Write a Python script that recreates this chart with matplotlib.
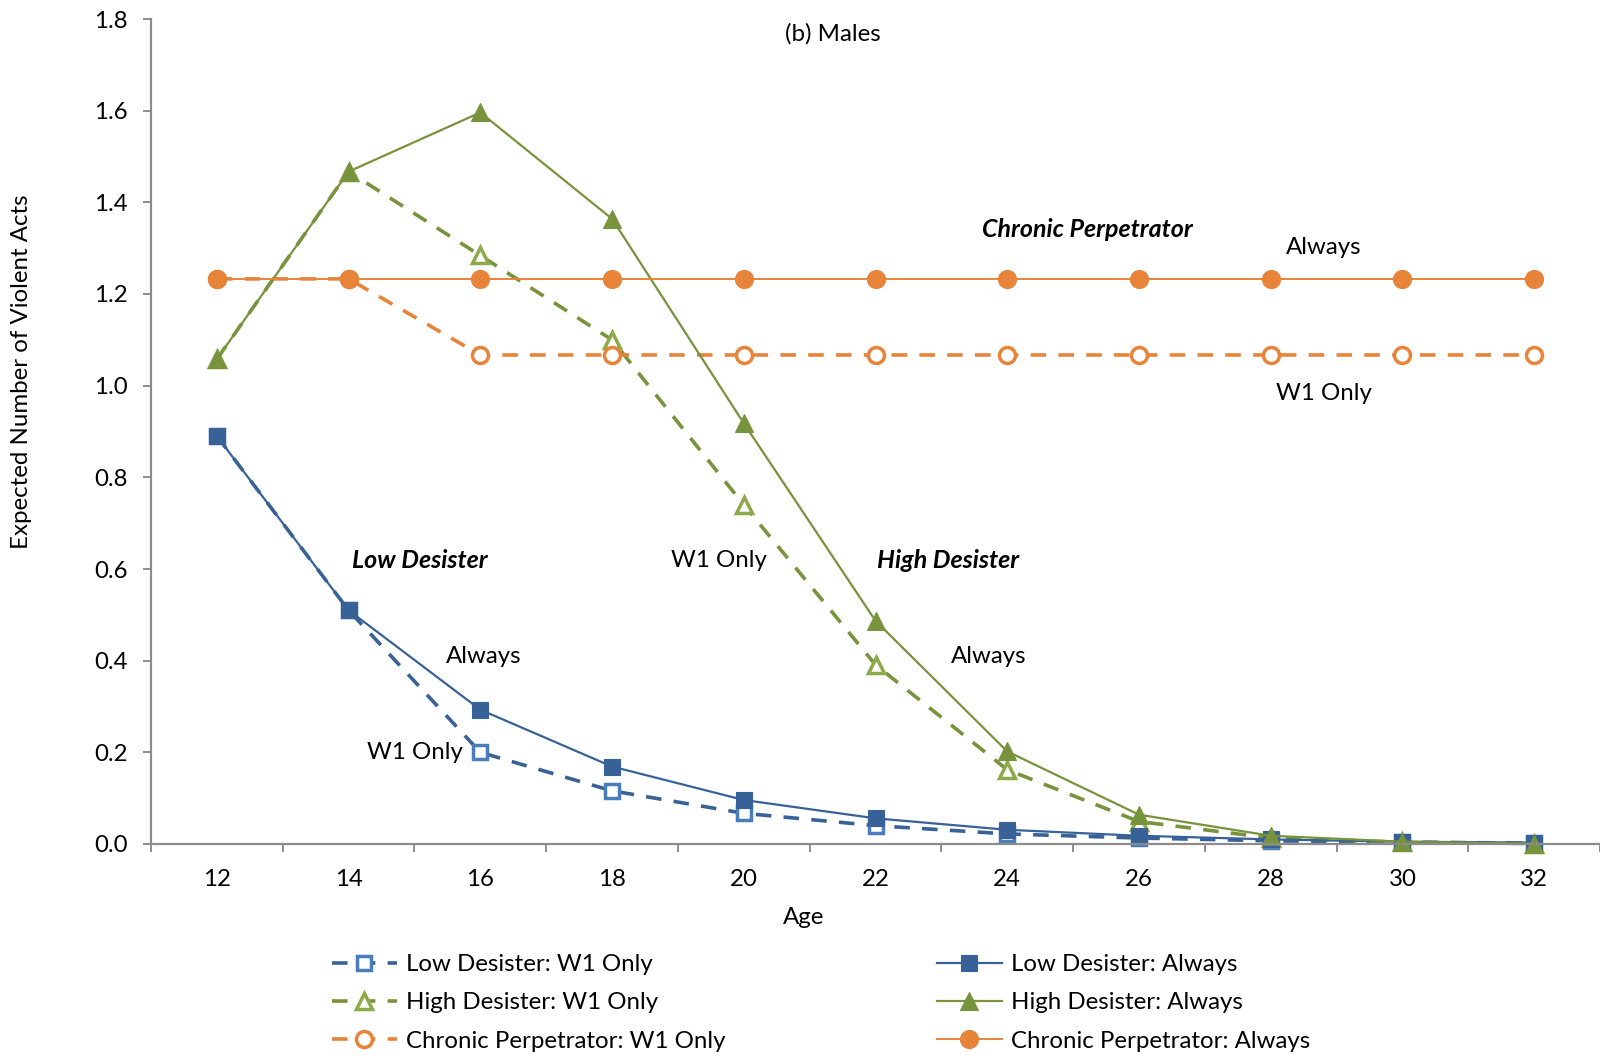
import matplotlib
matplotlib.use("Agg")
import matplotlib.pyplot as plt

plt.rcParams['font.family'] = ['Lato', 'DejaVu Sans']

ages = [12, 14, 16, 18, 20, 22, 24, 26, 28, 30, 32]

low_w1 = [0.89, 0.51, 0.20, 0.116, 0.067, 0.040, 0.022, 0.013, 0.007, 0.004, 0.002]
low_always = [0.89, 0.51, 0.293, 0.169, 0.096, 0.056, 0.031, 0.018, 0.010, 0.005, 0.003]
high_w1 = [1.058, 1.467, 1.284, 1.100, 0.740, 0.391, 0.162, 0.049, 0.013, 0.004, 0.001]
high_always = [1.058, 1.467, 1.596, 1.364, 0.918, 0.487, 0.202, 0.064, 0.018, 0.005, 0.001]
chronic_w1 = [1.233, 1.233, 1.067, 1.067, 1.067, 1.067, 1.067, 1.067, 1.067, 1.067, 1.067]
chronic_always = [1.233] * 11

y_ticks = [0.0, 0.2, 0.4, 0.6, 0.8, 1.0, 1.2, 1.4, 1.6, 1.8]

BLUE = '#386297'
BLUE_L = '#4A7EBB'
GREEN = '#77933C'
GREEN_L = '#8DAA4A'
ORANGE = '#E8833A'
AXIS = '#8C8C8C'

FS = 17.3
FS_EM = 18
fig = plt.figure(figsize=(16, 10.55), dpi=100)
ax = fig.add_axes([151 / 1600, 1 - 844 / 1055, 1 - 151 / 1600, (844 - 19) / 1055])

dash = (0, (4.3, 3.4))
series = [
    # label, data, color, marker color, linestyle, lw, marker, ms, filled
    ('Low Desister: W1 Only', low_w1, BLUE, BLUE_L, dash, 2.6, 's', 10, False),
    ('High Desister: W1 Only', high_w1, GREEN, GREEN_L, dash, 2.6, '^', 11, False),
    ('Chronic Perpetrator: W1 Only', chronic_w1, ORANGE, ORANGE, dash, 2.6, 'o', 11.5, False),
    ('Low Desister: Always', low_always, BLUE, BLUE, '-', 1.6, 's', 11.5, True),
    ('High Desister: Always', high_always, GREEN, GREEN, '-', 1.6, '^', 12.5, True),
    ('Chronic Perpetrator: Always', chronic_always, ORANGE, ORANGE, '-', 1.4, 'o', 13, True),
]

handles = []
for label, vals, col, mcol, ls, lw, mk, ms, filled in series:
    kw = dict(color=col, linestyle=ls, linewidth=lw, marker=mk, markersize=ms,
              markeredgecolor=mcol, clip_on=False, label=label)
    if filled:
        kw.update(markerfacecolor=mcol, markeredgewidth=0.8)
    else:
        kw.update(markerfacecolor='white', markeredgewidth=2.5)
    h, = ax.plot(ages, vals, **kw)
    handles.append(h)

ax.set_xlim(11, 11 + (1600 - 151) / 66)
ax.set_ylim(0, 1.8)

for s in ['top', 'right']:
    ax.spines[s].set_visible(False)
for s in ['left', 'bottom']:
    ax.spines[s].set_color(AXIS)
    ax.spines[s].set_linewidth(1.6)

ax.set_yticks(y_ticks)
ax.set_yticklabels([f'{v:.1f}' for v in y_ticks])
ax.tick_params(axis='y', direction='out', length=6, width=1.4, color=AXIS,
               pad=11, labelsize=FS)

# category boundaries carry the tick marks, labels sit at the category centres
ax.set_xticks(list(range(11, 34, 2)))
ax.set_xticklabels([])
ax.set_xticks(ages, minor=True)
ax.set_xticklabels([str(a) for a in ages], minor=True)
ax.tick_params(axis='x', which='major', direction='out', length=6, width=1.4, color=AXIS)
ax.tick_params(axis='x', which='minor', length=0, pad=18, labelsize=FS)

ax.text(21.36, 1.767, '(b) Males', ha='center', va='center', fontsize=FS)

notes = [
    (25.22, 1.34, 'Chronic Perpetrator', True),
    (28.81, 1.302, 'Always', False),
    (28.81, 0.982, 'W1 Only', False),
    (15.08, 0.618, 'Low Desister', True),
    (16.05, 0.409, 'Always', False),
    (15.0, 0.200, 'W1 Only', False),
    (19.63, 0.618, 'W1 Only', False),
    (23.10, 0.618, 'High Desister', True),
    (23.72, 0.409, 'Always', False),
]
for x, y, t, emph in notes:
    if emph:
        ax.text(x, y, t, ha='center', va='center', fontsize=FS_EM,
                fontweight='bold', fontstyle='italic')
    else:
        ax.text(x, y, t, ha='center', va='center', fontsize=FS)

fig.text(22 / 1600, 1 - 372 / 1055, 'Expected Number of Violent Acts',
         rotation=90, ha='center', va='center', fontsize=FS)
fig.text(804 / 1600, 1 - 918 / 1055, 'Age', ha='center', va='center', fontsize=FS)

leg_kw = dict(frameon=False, fontsize=FS, handlelength=2.7, handletextpad=0.4,
              labelspacing=0.72, borderpad=0, borderaxespad=0, loc='upper left',
              bbox_transform=fig.transFigure)
leg1 = fig.legend(handles=handles[:3], bbox_to_anchor=(332 / 1600, 1 - 954 / 1055), **leg_kw)
leg2 = fig.legend(handles=handles[3:], bbox_to_anchor=(937 / 1600, 1 - 954 / 1055), **leg_kw)

fig.savefig('out.png', dpi=100)
